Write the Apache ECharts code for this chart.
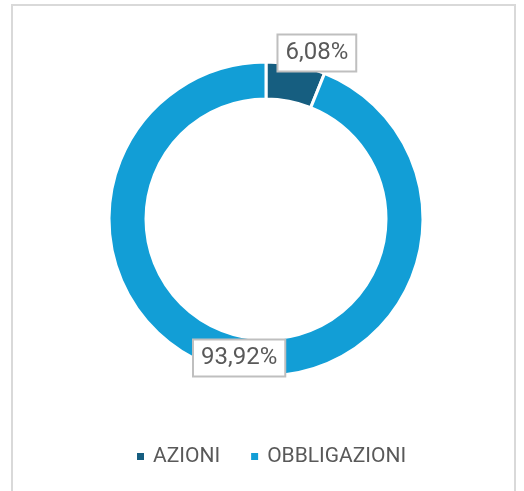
<!DOCTYPE html>
<html>
<head>
<meta charset="utf-8">
<script src="https://cdn.jsdelivr.net/npm/echarts@6/dist/echarts.min.js"></script>
<style>
  html, body { margin: 0; padding: 0; background: #fff; }
  #frame {
    position: absolute; left: 11px; top: 4px; width: 505px; height: 500px;
    border: 2px solid #d9d9d9; box-sizing: border-box;
  }
  #chart { position: absolute; left: 0; top: 0; width: 524px; height: 491px; }
</style>
</head>
<body>
<div id="frame"></div>
<div id="chart"></div>
<script>
// dati del grafico ad anello
const categorie = ['AZIONI', 'OBBLIGAZIONI'];
const valori = [6.08, 93.92];
const etichette = ['6,08%', '93,92%'];
const colori = ['#165E80', '#129ED6'];

const chart = echarts.init(document.getElementById('chart'));

// spostamento delle etichette rispetto alla posizione interna
const spostamenti = [[24, -27], [0, 0]];

const datiTorta = categorie.map((nome, i) => ({
  name: nome,
  value: valori[i],
  itemStyle: { color: colori[i] },
  label: { offset: spostamenti[i] }
}));

const option = {
  animation: false,
  legend: {
    data: categorie,
    bottom: 19,
    left: 130,
    icon: 'rect',
    itemWidth: 9,
    itemHeight: 9,
    itemGap: 29,
    textStyle: {
      fontFamily: 'Roboto',
      fontSize: 21,
      color: '#595959',
      padding: [0, 0, 0, 3]
    }
  },
  series: [
    {
      name: 'Composizione',
      type: 'pie',
      center: [266, 219],
      radius: [120, 157],
      startAngle: 90,
      clockwise: true,
      avoidLabelOverlap: false,
      itemStyle: { borderColor: '#fff', borderWidth: 3 },
      label: {
        show: true,
        position: 'inside',
        formatter: p => etichette[p.dataIndex],
        fontFamily: 'Roboto',
        fontSize: 24,
        lineHeight: 24,
        color: '#595959',
        backgroundColor: '#fff',
        borderColor: '#bfbfbf',
        borderWidth: 2,
        padding: [6, 7, 5, 7]
      },
      labelLine: { show: false },
      emphasis: { disabled: true },
      data: datiTorta
    }
  ]
};

chart.setOption(option);
</script>
</body>
</html>
